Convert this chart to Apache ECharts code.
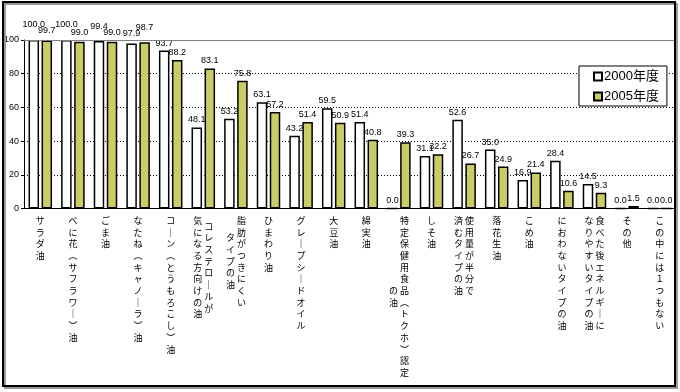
<!DOCTYPE html>
<html><head><meta charset="utf-8">
<script src="https://cdn.jsdelivr.net/npm/echarts@6/dist/echarts.min.js"></script>
<style>html,body{margin:0;padding:0;background:#fff}#c{width:680px;height:392px}</style>
</head><body><div id="c"></div>
<script>
const categories = [
  'サラダ油',
  'べに花（サフラワー）油',
  'ごま油',
  'なたね（キャノーラ）油',
  'コーン（とうもろこし）油',
  'コレステロールが\n気になる方向けの油',
  '脂肪がつきにくい\nタイプの油',
  'ひまわり油',
  'グレープシードオイル',
  '大豆油',
  '綿実油',
  '特定保健用食品（トクホ）認定\nの油',
  'しそ油',
  '使用量が半分で\n済むタイプの油',
  '落花生油',
  'こめ油',
  'におわないタイプの油',
  '食べた後エネルギーに\nなりやすいタイプの油',
  'その他',
  'この中には１つもない'
];
const seriesNames = ['2000年度', '2005年度'];
const values2000 = [100.0, 100.0, 99.4, 97.9, 93.7, 48.1, 53.2, 63.1, 43.2, 59.5, 51.4, 0.0, 31.1, 52.6, 35.0, 16.9, 28.4, 14.5, 0.0, 0.0];
const values2005 = [99.7, 99.0, 99.0, 98.7, 88.2, 83.1, 75.8, 57.2, 51.4, 50.9, 40.8, 39.3, 32.2, 26.7, 24.9, 21.4, 10.6, 9.3, 1.5, 0.0];
const yTicks = [0, 20, 40, 60, 80, 100];

// label nudges (style only), keyed by category index
const lift2000 = {0: 8, 1: 8, 2: 7, 3: 3};
const lift2005 = {0: 2, 1: 1.5, 2: 1.5, 3: 7};

function vert(s) {
  const map = {'ー': '｜', '（': '︵', '）': '︶'};
  const cols = s.split('\n').map(c => Array.from(c).map(ch => map[ch] || ch));
  const n = Math.max(...cols.map(c => c.length));
  const disp = cols.slice().reverse();
  const rows = [];
  for (let r = 0; r < 2 * n; r++) {
    rows.push(disp.map(c => {
      const off = n - c.length;
      const k = r - off;
      return (k >= 0 && k % 2 === 0 && k / 2 < c.length) ? c[k / 2] : '　';
    }).join(' '));
  }
  return rows.join('\n');
}
function withLift(vals, lift) {
  return vals.map((v, i) => lift[i] ? {value: v, label: {offset: [0, -lift[i]]}} : v);
}

const chart = echarts.init(document.getElementById('c'), null, {renderer: 'canvas'});
const labelStyle = {
  show: true, position: 'top', distance: 3, fontSize: 9, color: '#000',
  fontFamily: 'Liberation Sans, Arial, sans-serif',
  formatter: p => Number(p.value).toFixed(1)
};
chart.setOption({
  animation: false,
  backgroundColor: '#fff',
  graphic: [{
    type: 'rect', shape: {x: 3, y: 2, width: 672, height: 384},
    style: {fill: 'none', stroke: '#000', lineWidth: 2, shadowColor: '#999', shadowOffsetX: 2, shadowOffsetY: 2},
    silent: true, z: 100
  }],
  legend: {
    orient: 'vertical', left: 579, top: 66,
    backgroundColor: '#fff', borderColor: '#000', borderWidth: 1,
    padding: [4, 8, 3, 14], itemGap: 7, itemWidth: 8, itemHeight: 8,
    icon: 'rect',
    textStyle: {fontSize: 13, color: '#000', fontFamily: 'Liberation Sans, Noto Sans CJK JP, sans-serif', padding: [0, 0, 0, -3]},
    data: seriesNames
  },
  grid: {left: 24, right: 4, top: 40, bottom: 183.5, containLabel: false},
  xAxis: {
    type: 'category', data: categories,
    axisLine: {lineStyle: {color: '#000', width: 1}},
    axisTick: {show: false},
    axisLabel: {
      interval: 0, margin: 9, fontSize: 9, lineHeight: 5.85, color: '#000',
      fontFamily: 'Noto Sans CJK JP, sans-serif', align: 'center', verticalAlign: 'top',
      formatter: vert
    }
  },
  yAxis: {
    type: 'value', min: yTicks[0], max: yTicks[yTicks.length - 1], interval: 20,
    axisLine: {show: true, lineStyle: {color: '#000', width: 1}},
    axisTick: {show: true, length: 3, lineStyle: {color: '#000'}},
    axisLabel: {fontSize: 9, color: '#000', margin: 5, fontFamily: 'Liberation Sans, Arial, sans-serif'},
    splitLine: {show: true, lineStyle: {color: '#000', type: [1, 2], width: 1}}
  },
  series: [{
    name: seriesNames[0], type: 'bar', data: withLift(values2000, lift2000),
    barWidth: 10.5, barGap: '24%',
    itemStyle: {color: '#ffffff', borderColor: '#000', borderWidth: 1.5},
    label: labelStyle,
    markLine: {
      silent: true, symbol: 'none', label: {show: false},
      lineStyle: {color: '#808080', type: 'solid', width: 1},
      data: [{yAxis: 100}]
    }
  }, {
    name: seriesNames[1], type: 'bar', data: withLift(values2005, lift2005),
    barWidth: 10.5, barGap: '24%',
    itemStyle: {color: '#CCCC66', borderColor: '#000', borderWidth: 1.5},
    label: labelStyle
  }]
});
</script></body></html>
